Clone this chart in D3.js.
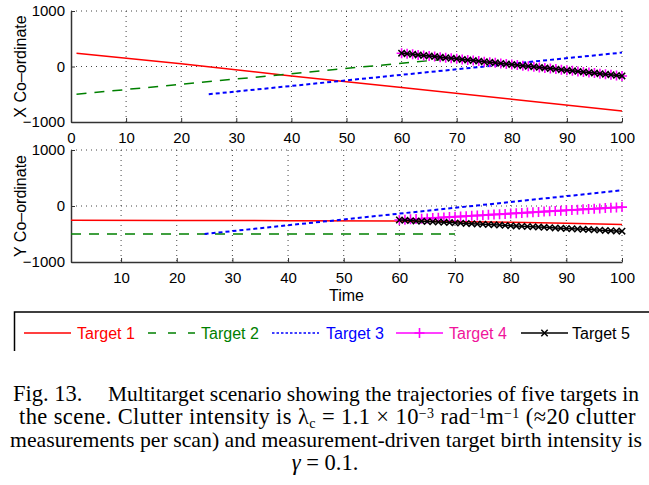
<!DOCTYPE html>
<html>
<head>
<meta charset="utf-8">
<script src="https://cdn.jsdelivr.net/npm/d3@7"></script>
<style>
  body { margin: 0; background: #fff; }
  svg { display: block; }
  .axis text { font-family: "Liberation Sans", Arial, sans-serif; font-size: 15px; fill: #000; }
  .axis path, .axis line { stroke: #333; }
  .lbl { font-family: "Liberation Sans", Arial, sans-serif; font-size: 16px; fill: #000; }
  .cap { font-family: "Liberation Serif", "Times New Roman", serif; font-size: 22.5px; fill: #000; }
</style>
</head>
<body>
<svg id="chart" width="649" height="485"></svg>
<script>
// ---- values ----
const timeTicksTop = [0, 10, 20, 30, 40, 50, 60, 70, 80, 90, 100];
const timeTicksBottom = [10, 20, 30, 40, 50, 60, 70, 80, 90, 100];
const coordTicks = [-1000, 0, 1000];

// line tracks: [time, value]
const target1X = [[1, 240], [20, 50], [40, -170], [60, -380], [80, -590], [100, -800]];
const target2X = [[1, -500], [20, -320], [40, -130], [60, 60], [70, 150]];
const target3X = [[25, -500], [50, -250], [75, 0], [100, 250]];
const target1Y = [[1, -255], [20, -258], [40, -262], [60, -268], [80, -290], [90, -308], [100, -330]];
const target2Y = [[1, -500], [70, -500]];
const target3Y = [[25, -500], [50, -240], [75, 20], [100, 280]];

// marker tracks, one value per scan
const markerTimes = [60, 61, 62, 63, 64, 65, 66, 67, 68, 69, 70, 71, 72, 73, 74, 75, 76, 77, 78, 79, 80,
  81, 82, 83, 84, 85, 86, 87, 88, 89, 90, 91, 92, 93, 94, 95, 96, 97, 98, 99, 100];
const target4X = [240, 230, 220, 209, 199, 189, 179, 168, 158, 148, 138, 127, 117, 107, 97, 86, 76, 66, 56, 45, 35,
  25, 15, 4, -6, -16, -26, -37, -47, -57, -67, -78, -88, -98, -108, -119, -129, -139, -149, -160, -170];
const target5X = [240, 230, 220, 209, 199, 189, 179, 168, 158, 148, 138, 127, 117, 107, 97, 86, 76, 66, 56, 45, 35,
  25, 15, 4, -6, -16, -26, -37, -47, -57, -67, -78, -88, -98, -108, -119, -129, -139, -149, -160, -170];
const target4Y = [-250, -244, -238, -233, -227, -221, -215, -210, -204, -198, -192, -187, -181, -175, -169, -164,
  -158, -152, -146, -141, -135, -129, -123, -118, -112, -106, -100, -95, -89, -83, -77, -72, -66, -60, -54, -49,
  -43, -37, -31, -26, -20];
const target5Y = [-250, -256, -261, -266, -271, -276, -281, -286, -291, -296, -301, -306, -311, -316, -321, -326,
  -331, -336, -341, -346, -351, -356, -361, -366, -371, -376, -381, -386, -391, -396, -401, -406, -411, -416, -421,
  -426, -431, -436, -441, -446, -450];

const legendNames = ["Target 1", "Target 2", "Target 3", "Target 4", "Target 5"];

// caption pieces: [text, kind]
const captionLine1a = [["Fig. 13.", ""]];
const captionLine1b = [["Multitarget scenario showing the trajectories of five targets in", ""]];
const captionLine2 = [["the scene. Clutter intensity is λ", ""], ["c", "sub"], [" = 1.1 × 10", ""], ["−3", "sup"],
  [" rad", ""], ["−1", "sup"], ["m", ""], ["−1", "sup"], [" (≈20 clutter", ""]];
const captionLine3 = [["measurements per scan) and measurement-driven target birth intensity is", ""]];
const captionLine4 = [["γ", "it"], [" = 0.1.", ""]];

// ---- styles ----
const styles = [
  { color: "#ff0000", text: "#ff0000", width: 1.5, dash: null, legendDash: null, marker: null },
  { color: "#008000", text: "#008000", width: 1.5, dash: "10,8", legendDash: "8,12", marker: null },
  { color: "#0000ff", text: "#0000ff", width: 2, dash: "4,3", legendDash: "2.5,2", marker: null },
  { color: "#ff00ff", text: "#f0149b", width: 2, dash: null, legendDash: null, marker: "plus" },
  { color: "#000000", text: "#000000", width: 1.5, dash: null, legendDash: null, marker: "cross" },
];

const svg = d3.select("#chart");
const left = 71, right = 622;

function drawMarkers(g, pts, kind, color) {
  const s = kind === "plus" ? 5 : 3.2;
  const path = pts.map(([px, py]) => kind === "plus"
    ? `M${px - s},${py}H${px + s}M${px},${py - s}V${py + s}`
    : `M${px - s},${py - s}L${px + s},${py + s}M${px - s},${py + s}L${px + s},${py - s}`).join("");
  g.append("path").attr("d", path).attr("fill", "none").attr("stroke", color)
    .attr("stroke-width", kind === "plus" ? 1.6 : 1.5);
}

function panel(top, bottom, domainX, xTicks, lines, markerSeries, label) {
  const x = d3.scaleLinear().domain(domainX).range([left, right]);
  const y = d3.scaleLinear().domain([-1000, 1000]).range([bottom, top]);
  const g = svg.append("g");

  // dotted grid
  const grid = g.append("g").attr("stroke", "#444").attr("stroke-width", 1).attr("stroke-dasharray", "1,4");
  xTicks.filter((t) => t !== domainX[0]).forEach((t) => {
    grid.append("line").attr("x1", x(t)).attr("x2", x(t)).attr("y1", y(1000)).attr("y2", y(-1000));
  });
  [0, 1000].forEach((v) => {
    grid.append("line").attr("x1", x(domainX[0])).attr("x2", x(100)).attr("y1", y(v)).attr("y2", y(v));
  });

  // axes
  g.append("g").attr("class", "axis").attr("transform", `translate(0,${bottom})`)
    .call(d3.axisBottom(x).tickValues(xTicks).tickFormat(d3.format("d")).tickSize(-4).tickSizeOuter(0).tickPadding(10))
    .call((a) => a.select(".domain").attr("stroke-width", 1.5));
  g.append("g").attr("class", "axis").attr("transform", `translate(${left},0)`)
    .call(d3.axisLeft(y).tickValues(coordTicks).tickFormat(d3.format("d")).tickSize(-4).tickSizeOuter(0).tickPadding(6))
    .call((a) => a.select(".domain").attr("stroke-width", 1.5));

  // trajectories
  const line = d3.line().x((d) => x(d[0])).y((d) => y(d[1]));
  lines.forEach(([data, st]) => {
    g.append("path").attr("d", line(data)).attr("fill", "none")
      .attr("stroke", st.color).attr("stroke-width", st.width)
      .attr("stroke-dasharray", st.dash);
  });
  markerSeries.forEach(([vals, st]) => {
    const pts = markerTimes.map((t, i) => [t, vals[i]]);
    g.append("path").attr("d", line(pts)).attr("fill", "none")
      .attr("stroke", st.color).attr("stroke-width", st.width);
    drawMarkers(g, pts.map((p) => [x(p[0]), y(p[1])]), st.marker, st.color);
  });

  svg.append("text").attr("class", "lbl").attr("text-anchor", "middle")
    .attr("transform", `translate(26,${(top + bottom) / 2}) rotate(-90)`)
    .text(label);
  return x;
}

panel(11, 122, [0, 100], timeTicksTop,
  [[target1X, styles[0]], [target2X, styles[1]], [target3X, styles[2]]],
  [[target4X, styles[3]], [target5X, styles[4]]], "X Co–ordinate");
panel(150, 262, [1, 100], timeTicksBottom,
  [[target1Y, styles[0]], [target2Y, styles[1]], [target3Y, styles[2]]],
  [[target4Y, styles[3]], [target5Y, styles[4]]], "Y Co–ordinate");

svg.append("text").attr("class", "lbl").attr("x", (left + right) / 2).attr("y", 301)
  .attr("text-anchor", "middle").text("Time");

// legend (box cut off on the right and bottom, as in the figure)
const lg = svg.append("g");
lg.append("path").attr("d", "M14.5,351V312H649").attr("fill", "none").attr("stroke", "#000").attr("stroke-width", 1.5);
const legendX = [24, 148, 272, 396, 521];
const legendTextX = [77, 201, 326, 449, 572];
const ly = 333;
legendNames.forEach((name, i) => {
  const st = styles[i];
  const x0 = legendX[i], x1 = x0 + 47;
  lg.append("line").attr("x1", x0).attr("x2", x1).attr("y1", ly).attr("y2", ly)
    .attr("stroke", st.color).attr("stroke-width", st.width === 2 ? 1.6 : 1.4)
    .attr("stroke-dasharray", st.legendDash);
  if (st.marker) drawMarkers(lg, [[(x0 + x1) / 2, ly]], st.marker, st.color);
  lg.append("text").attr("class", "lbl").attr("x", legendTextX[i]).attr("y", ly + 5.5)
    .style("fill", st.text).text(name);
});

// caption
function captionText(pieces, x, y, anchor) {
  const t = svg.append("text").attr("class", "cap").attr("x", x).attr("y", y)
    .attr("text-anchor", anchor || "start");
  let prev = 0;
  pieces.forEach(([s, kind]) => {
    const off = kind === "sub" ? 4 : kind === "sup" ? -6 : 0;
    const sp = t.append("tspan").attr("dy", off - prev).text(s);
    if (kind === "sub" || kind === "sup") sp.style("font-size", "14px");
    if (kind === "it") sp.style("font-style", "italic");
    prev = off;
  });
  return t;
}
// justify a line: shrink the font if it is too long, then spread letters to fill
function justify(t, width) {
  const n = t.node();
  let len = n.getComputedTextLength();
  if (len > width) {
    const fs = parseFloat(getComputedStyle(n).fontSize) * (width - 1) / len;
    t.style("font-size", fs + "px");
    len = n.getComputedTextLength();
  }
  const chars = n.textContent.length;
  t.attr("letter-spacing", Math.max(0, width - len) / chars);
}
captionText(captionLine1a, 13, 401);
justify(captionText(captionLine1b, 108, 401), 639 - 108);
justify(captionText(captionLine2, 19, 424), 636 - 19);
justify(captionText(captionLine3, 10, 447), 642 - 10);
captionText(captionLine4, 325, 470, "middle");
</script>
</body>
</html>
